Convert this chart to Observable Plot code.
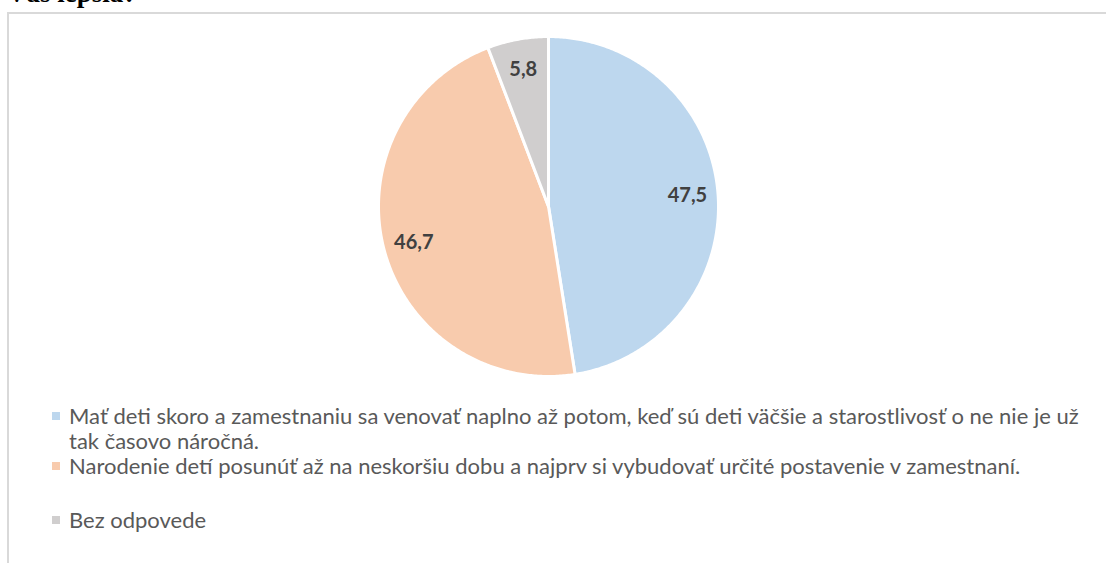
<!DOCTYPE html>
<html>
<head>
<meta charset="utf-8">
<script src="https://cdn.jsdelivr.net/npm/d3@7"></script>
<script src="https://cdn.jsdelivr.net/npm/@observablehq/plot@0.6"></script>
<style>
  html, body { margin: 0; padding: 0; background: #fff; width: 1106px; height: 563px; overflow: hidden; }
  #title { position: absolute; left: 7px; top: -20px; font: bold 27px "Liberation Serif", serif; line-height: 27px; color: #000; white-space: nowrap; }
  #frame { position: absolute; left: 7px; top: 12px; width: 1200px; height: 700px; border-left: 2px solid #d9d9d9; border-top: 2px solid #d9d9d9; box-sizing: border-box; }
  #chart { position: absolute; left: 0; top: 13px; width: 1106px; }
  #legend { margin-top: 10px; font-family: Lato, sans-serif; font-size: 22px; color: #595959; line-height: 25px; }
  .item { position: relative; padding-left: 69px; width: 1030px; }
  .item .sw { position: absolute; left: 52px; width: 8px; height: 8px; top: 9px; }
</style>
</head>
<body>
<div id="title">Vás lepšia?</div>
<div id="frame"></div>
<div id="chart"></div>
<script>
const categories = [
  "Mať deti skoro a zamestnaniu sa venovať naplno až potom, keď sú deti väčšie a starostlivosť o ne nie je už tak časovo náročná.",
  "Narodenie detí posunúť až na neskoršiu dobu a najprv si vybudovať určité postavenie v zamestnaní.",
  "Bez odpovede"
];
const values = [47.5, 46.7, 5.8];
const valueLabels = ["47,5", "46,7", "5,8"];
const colors = ["#BDD7EE", "#F8CBAD", "#D0CECE"];

const arcs = d3.pie().sort(null).value(d => d.value)(
  categories.map((c, i) => ({cat: c, value: values[i], label: valueLabels[i]}))
);

// wedge outlines in unit-circle coordinates (angle clockwise from 12 o'clock)
const pts = [];
arcs.forEach(a => {
  const c = a.data.cat;
  pts.push({cat: c, x: 0, y: 0});
  const n = Math.max(2, Math.ceil((a.endAngle - a.startAngle) / 0.01));
  for (let k = 0; k <= n; k++) {
    const t = a.startAngle + (a.endAngle - a.startAngle) * k / n;
    pts.push({cat: c, x: Math.sin(t), y: Math.cos(t)});
  }
  pts.push({cat: c, x: 0, y: 0});
});

const labelPos = arcs.map(a => {
  const m = (a.startAngle + a.endAngle) / 2;
  return {x: 0.82 * Math.sin(m), y: 0.82 * Math.cos(m), label: a.data.label};
});

const R = 170, cx = 548, cy = 193;
const plot = Plot.plot({
  width: 1106,
  height: 380,
  margin: 0,
  style: {background: "transparent", overflow: "visible"},
  x: {domain: [-1, 1], range: [cx - R, cx + R], axis: null},
  y: {domain: [-1, 1], range: [cy + R, cy - R], axis: null},
  color: {domain: categories, range: colors},
  marks: [
    Plot.line(pts, {x: "x", y: "y", z: "cat", fill: "cat", stroke: "white", strokeWidth: 3, strokeLinejoin: "round"}),
    Plot.text(labelPos, {x: "x", y: "y", text: "label", fill: "#404040", fontWeight: "bold", fontSize: 20, fontFamily: "Lato, sans-serif"})
  ]
});
document.getElementById("chart").appendChild(plot);

const legend = document.createElement("div");
legend.id = "legend";
categories.forEach((c, i) => {
  const it = document.createElement("div");
  it.className = "item";
  if (i === 1) it.style.marginBottom = "29px";
  const sw = document.createElement("span");
  sw.className = "sw";
  sw.style.background = colors[i];
  it.appendChild(sw);
  it.appendChild(document.createTextNode(c));
  legend.appendChild(it);
});
document.getElementById("chart").appendChild(legend);
</script>
</body>
</html>
